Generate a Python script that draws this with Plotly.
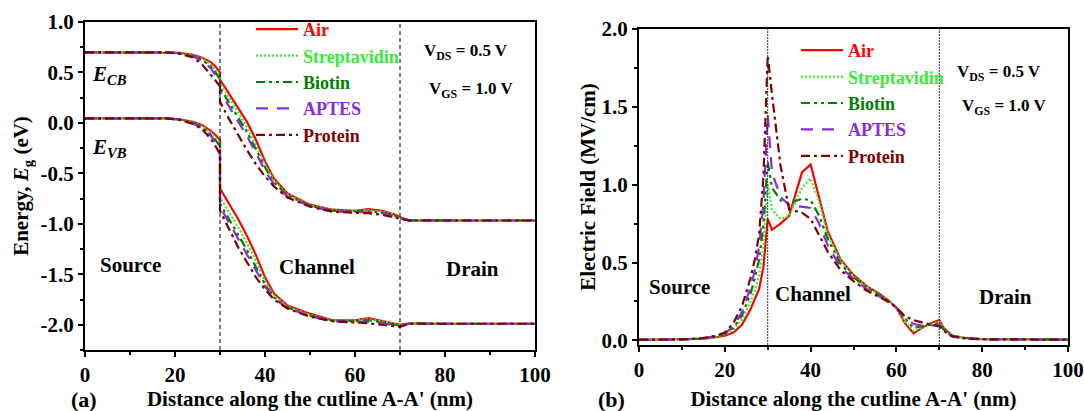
import plotly.graph_objects as go

# ---------------- data ----------------
series = ["Air", "Streptavidin", "Biotin", "APTES", "Protein"]
colors = ["#FF0000", "#33EE33", "#008000", "#8A2BE2", "#800000"]
dashes = ["solid", "2px,2px", "9px,4px,3px,4px,3px,4px", "12px,9px", "9px,4px,3px,4px"]

# (a) energy bands vs distance (nm); x=30 appears twice (band discontinuity)
x_band = [0, 10, 18, 21, 24, 26, 28, 29, 30, 30, 32, 34, 36, 38, 40, 42, 45, 50, 55, 60, 63, 66, 69, 70, 72, 80, 100]

ecb_air     = [0.70, 0.70, 0.70, 0.695, 0.675, 0.645, 0.60, 0.56, 0.50, 0.43, 0.29, 0.15, 0.01, -0.17, -0.38, -0.55, -0.70, -0.81, -0.86, -0.87, -0.855, -0.87, -0.91, -0.935, -0.965, -0.967, -0.967]
ecb_strep   = [0.70, 0.70, 0.70, 0.693, 0.67, 0.635, 0.58, 0.53, 0.47, 0.40, 0.26, 0.11, -0.04, -0.22, -0.41, -0.57, -0.71, -0.815, -0.865, -0.875, -0.865, -0.88, -0.915, -0.94, -0.965, -0.967, -0.967]
ecb_biotin  = [0.70, 0.70, 0.70, 0.69, 0.665, 0.625, 0.56, 0.50, 0.43, 0.35, 0.20, 0.06, -0.09, -0.26, -0.44, -0.59, -0.72, -0.82, -0.87, -0.88, -0.875, -0.89, -0.92, -0.945, -0.965, -0.967, -0.967]
ecb_aptes   = [0.70, 0.70, 0.70, 0.69, 0.66, 0.615, 0.54, 0.47, 0.41, 0.31, 0.16, 0.02, -0.13, -0.30, -0.47, -0.61, -0.73, -0.825, -0.875, -0.885, -0.885, -0.895, -0.925, -0.945, -0.965, -0.967, -0.967]
ecb_protein = [0.70, 0.70, 0.70, 0.685, 0.65, 0.58, 0.48, 0.42, 0.36, 0.21, 0.04, -0.12, -0.27, -0.41, -0.53, -0.63, -0.74, -0.83, -0.88, -0.89, -0.895, -0.91, -0.935, -0.95, -0.967, -0.967, -0.967]

evb_air     = [0.045, 0.045, 0.045, 0.035, 0.01, -0.02, -0.08, -0.12, -0.17, -0.65, -0.80, -0.95, -1.12, -1.31, -1.53, -1.69, -1.81, -1.89, -1.955, -1.955, -1.935, -1.96, -1.99, -2.0, -1.985, -1.99, -1.99]
evb_strep   = [0.045, 0.045, 0.045, 0.034, 0.005, -0.03, -0.10, -0.15, -0.20, -0.74, -0.88, -1.03, -1.19, -1.37, -1.57, -1.71, -1.82, -1.90, -1.96, -1.96, -1.945, -1.965, -1.995, -2.005, -1.985, -1.99, -1.99]
evb_biotin  = [0.045, 0.045, 0.045, 0.033, 0.0, -0.04, -0.12, -0.17, -0.23, -0.80, -0.95, -1.10, -1.26, -1.43, -1.60, -1.73, -1.83, -1.91, -1.96, -1.965, -1.955, -1.975, -2.0, -2.01, -1.985, -1.99, -1.99]
evb_aptes   = [0.045, 0.045, 0.045, 0.032, -0.005, -0.05, -0.13, -0.19, -0.26, -0.83, -0.99, -1.15, -1.31, -1.47, -1.62, -1.74, -1.835, -1.915, -1.965, -1.97, -1.97, -1.985, -2.005, -2.015, -1.99, -1.99, -1.99]
evb_protein = [0.045, 0.045, 0.045, 0.03, -0.01, -0.06, -0.16, -0.23, -0.31, -0.87, -1.05, -1.23, -1.38, -1.53, -1.65, -1.75, -1.84, -1.92, -1.965, -1.975, -1.985, -2.0, -2.015, -2.02, -1.99, -1.99, -1.99]

# (b) electric field (MV/cm) vs distance (nm)
x_field = [0, 10, 15, 18, 20, 22, 24, 26, 27, 28, 29, 30, 31, 33, 35, 38, 40, 42, 44, 47, 50, 53, 56, 58, 60, 62, 64, 66, 68, 70, 71, 73, 76, 80, 100]

ef_air     = [0.003, 0.005, 0.01, 0.02, 0.03, 0.05, 0.10, 0.20, 0.26, 0.33, 0.47, 0.78, 0.71, 0.75, 0.80, 1.08, 1.13, 0.92, 0.70, 0.52, 0.42, 0.35, 0.30, 0.26, 0.21, 0.11, 0.045, 0.08, 0.11, 0.13, 0.08, 0.03, 0.015, 0.008, 0.005]
ef_strep   = [0.003, 0.005, 0.01, 0.02, 0.035, 0.07, 0.13, 0.25, 0.32, 0.42, 0.60, 1.00, 0.84, 0.78, 0.80, 0.98, 1.04, 0.89, 0.68, 0.51, 0.415, 0.345, 0.295, 0.26, 0.21, 0.12, 0.06, 0.085, 0.105, 0.12, 0.075, 0.03, 0.015, 0.008, 0.005]
ef_biotin  = [0.003, 0.005, 0.012, 0.025, 0.04, 0.08, 0.16, 0.30, 0.40, 0.52, 0.74, 1.15, 0.98, 0.90, 0.88, 0.91, 0.90, 0.80, 0.65, 0.49, 0.405, 0.34, 0.29, 0.255, 0.21, 0.14, 0.08, 0.09, 0.10, 0.11, 0.07, 0.03, 0.015, 0.008, 0.005]
ef_aptes   = [0.003, 0.005, 0.012, 0.028, 0.045, 0.09, 0.18, 0.34, 0.45, 0.60, 0.88, 1.45, 1.08, 0.92, 0.87, 0.86, 0.85, 0.75, 0.61, 0.47, 0.395, 0.33, 0.285, 0.25, 0.21, 0.15, 0.105, 0.095, 0.095, 0.10, 0.065, 0.025, 0.012, 0.007, 0.004]
ef_protein = [0.004, 0.006, 0.015, 0.03, 0.05, 0.11, 0.22, 0.40, 0.52, 0.68, 1.05, 1.83, 1.58, 1.12, 0.84, 0.82, 0.78, 0.68, 0.57, 0.45, 0.38, 0.32, 0.28, 0.25, 0.21, 0.155, 0.13, 0.115, 0.10, 0.09, 0.06, 0.025, 0.012, 0.007, 0.004]

ecb = [ecb_air, ecb_strep, ecb_biotin, ecb_aptes, ecb_protein]
evb = [evb_air, evb_strep, evb_biotin, evb_aptes, evb_protein]
ef = [ef_air, ef_strep, ef_biotin, ef_aptes, ef_protein]

x_ticks = [0, 20, 40, 60, 80, 100]
x_ticklabels = ["0", "20", "40", "60", "80", "100"]
ya_ticks = [1.0, 0.5, 0.0, -0.5, -1.0, -1.5, -2.0]
ya_ticklabels = ["1.0", "0.5", "0.0", "-0.5", "-1.0", "-1.5", "-2.0"]
yb_ticks = [0.0, 0.5, 1.0, 1.5, 2.0]
yb_ticklabels = ["0.0", "0.5", "1.0", "1.5", "2.0"]

# ---------------- figure ----------------
FONT = "Liberation Serif"
fig = go.Figure()

for i, name in enumerate(series):
    label = f"<span style='color:{colors[i]}'>{name}</span>"
    line = dict(color=colors[i], width=2.2, dash=dashes[i])
    fig.add_trace(go.Scatter(x=x_band, y=ecb[i], mode="lines", line=line, name=label,
                             legend="legend", xaxis="x", yaxis="y"))
for i, name in enumerate(series):
    line = dict(color=colors[i], width=2.2, dash=dashes[i])
    fig.add_trace(go.Scatter(x=x_band, y=evb[i], mode="lines", line=line, showlegend=False,
                             xaxis="x", yaxis="y"))
for i, name in enumerate(series):
    label = f"<span style='color:{colors[i]}'>{name}</span>"
    line = dict(color=colors[i], width=2.2, dash=dashes[i])
    fig.add_trace(go.Scatter(x=x_field, y=ef[i], mode="lines", line=line, name=label,
                             legend="legend2", xaxis="x2", yaxis="y2"))

tickfont = dict(family=FONT, size=21, color="black", weight="bold")
titlefont = dict(family=FONT, size=21, color="black", weight="bold")

axis_common = dict(showline=True, linecolor="black", linewidth=2, mirror=True,
                   ticks="outside", ticklen=5, tickwidth=2, tickcolor="black",
                   showgrid=False, zeroline=False, tickfont=tickfont, automargin=False)

W, H = 1084, 411
ml, mr, mt, mb = 85, 16, 22, 61
pw = W - ml - mr
ph = H - mt - mb

def px_x(p):
    return (p - ml) / pw

def px_y(p):
    return (H - mb - p) / ph

minor_x = dict(dtick=10, tick0=0, ticks="outside", ticklen=3, tickwidth=2, tickcolor="black", showgrid=False)
minor_y = dict(dtick=0.25, tick0=0, ticks="outside", ticklen=3, tickwidth=2, tickcolor="black", showgrid=False)

fig.update_layout(
    width=W, height=H,
    margin=dict(l=ml, r=mr, t=mt, b=mb, autoexpand=False),
    paper_bgcolor="white", plot_bgcolor="white",
    font=dict(family=FONT, color="black"),
    xaxis=dict(domain=[0, px_x(535)], range=[0, 100], tickvals=x_ticks, ticktext=x_ticklabels,
               minor=minor_x, anchor="y",
               title=dict(text="Distance along the cutline A-A' (nm)", font=titlefont, standoff=12),
               **axis_common),
    yaxis=dict(domain=[0, 1], range=[-2.25, 1.0], tickvals=ya_ticks, ticktext=ya_ticklabels,
               minor=minor_y, anchor="x",
               title=dict(text="Energy, <i>E</i><sub>g</sub> (eV)", font=titlefont, standoff=6),
               **axis_common),
    xaxis2=dict(domain=[px_x(639), 1], range=[0, 100], tickvals=x_ticks, ticktext=x_ticklabels,
                minor=minor_x, anchor="y2",
                title=dict(text="Distance along the cutline A-A' (nm)", font=titlefont, standoff=12),
                **axis_common),
    yaxis2=dict(domain=[px_y(345), px_y(29)], range=[-0.03, 2.0], tickvals=yb_ticks, ticktext=yb_ticklabels,
                minor=minor_y, anchor="x2",
                title=dict(text="Electric Field (MV/cm)", font=titlefont, standoff=0),
                **axis_common),
    legend=dict(x=px_x(251), y=px_y(11), xanchor="left", yanchor="top", bgcolor="rgba(0,0,0,0)",
                font=dict(family=FONT, size=18, weight="bold"), tracegroupgap=0, itemwidth=42),
    legend2=dict(x=px_x(796), y=px_y(32), xanchor="left", yanchor="top", bgcolor="rgba(0,0,0,0)",
                 font=dict(family=FONT, size=18, weight="bold"), tracegroupgap=0, itemwidth=42),
)

# region boundaries
for xv in [30, 70]:
    fig.add_shape(type="line", xref="x", yref="y domain", x0=xv, x1=xv, y0=0, y1=1,
                  line=dict(color="black", width=1, dash="4px,3px"))
    fig.add_shape(type="line", xref="x2", yref="y2 domain", x0=xv, x1=xv, y0=0, y1=1,
                  line=dict(color="#333333", width=1, dash="2px,1px"))

def add_text(text, x, y, xref, yref, size=21, xanchor="center"):
    fig.add_annotation(text=text, x=x, y=y, xref=xref, yref=yref, showarrow=False,
                       xanchor=xanchor, yanchor="middle",
                       font=dict(family=FONT, size=size, color="black", weight="bold"))

add_text("<i>E<sub>CB</sub></i>", 1.0, 0.47, "x", "y", 21, "left")
add_text("<i>E<sub>VB</sub></i>", 1.0, -0.25, "x", "y", 21, "left")
add_text("Source", 10, -1.41, "x", "y", 21)
add_text("Channel", 51.5, -1.43, "x", "y", 21)
add_text("Drain", 86, -1.45, "x", "y", 21)
add_text("V<sub>DS</sub> = 0.5 V", 84.7, 0.70, "x", "y", 17)
add_text("V<sub>GS</sub> = 1.0 V", 85.8, 0.33, "x", "y", 17)

add_text("Source", 9.5, 0.34, "x2", "y2", 21)
add_text("Channel", 40.5, 0.30, "x2", "y2", 21)
add_text("Drain", 85.5, 0.28, "x2", "y2", 21)
add_text("V<sub>DS</sub> = 0.5 V", 84.0, 1.72, "x2", "y2", 17)
add_text("V<sub>GS</sub> = 1.0 V", 85.3, 1.50, "x2", "y2", 17)

add_text("(a)", px_x(84), px_y(399), "paper", "paper", 22)
add_text("(b)", px_x(611), px_y(399), "paper", "paper", 22)

fig.write_html("out.html")
